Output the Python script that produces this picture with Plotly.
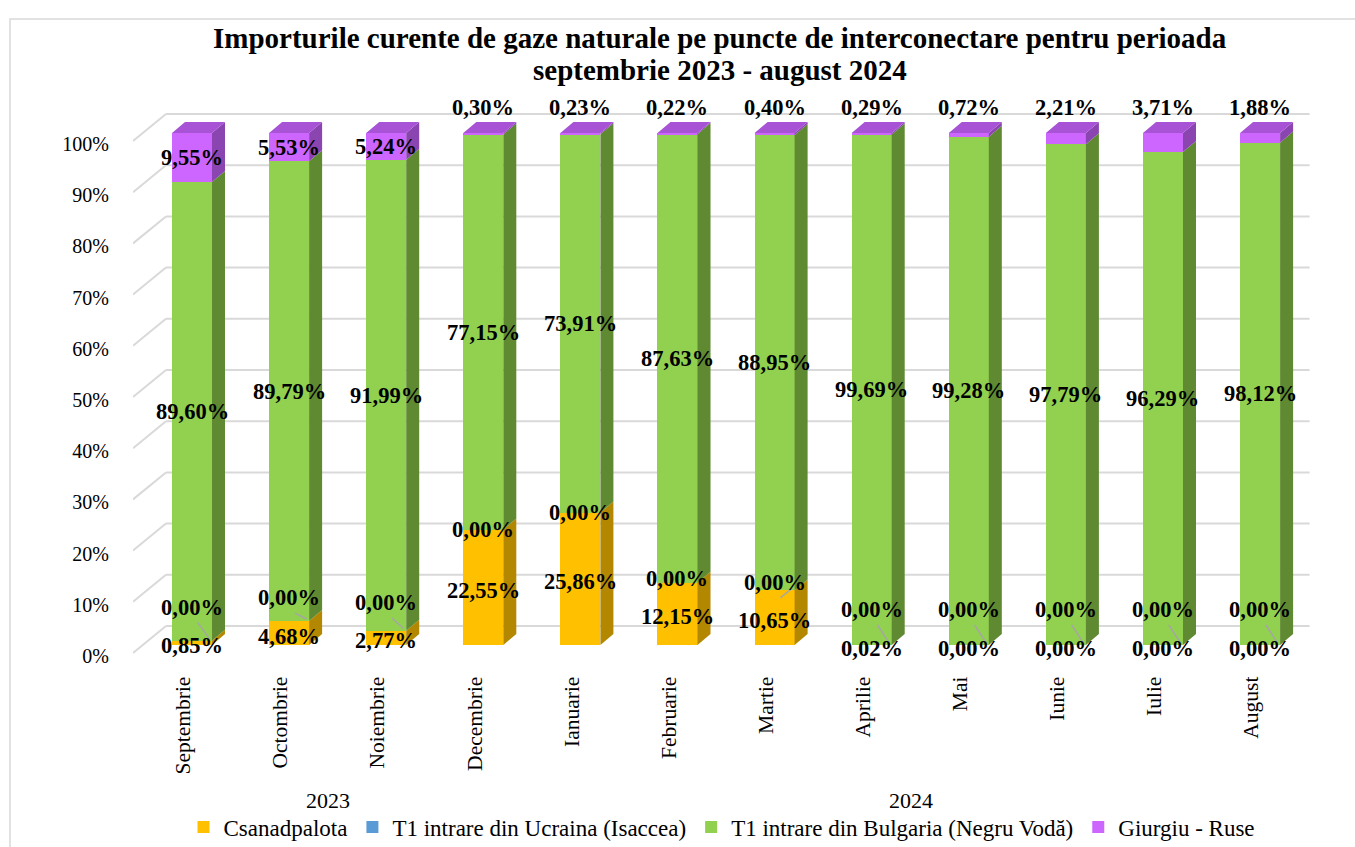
import plotly.graph_objects as go

# ---------------- data ----------------
months = ["Septembrie", "Octombrie", "Noiembrie", "Decembrie", "Ianuarie", "Februarie",
          "Martie", "Aprilie", "Mai", "Iunie", "Iulie", "August"]
year_labels = ["2023", "2024"]
year_month_count = [4, 8]

series_names = ["Csanadpalota", "T1 intrare din Ucraina (Isaccea)",
                "T1 intrare din Bulgaria (Negru Vodă)", "Giurgiu - Ruse"]
csanadpalota = [0.85, 4.68, 2.77, 22.55, 25.86, 12.15, 10.65, 0.02, 0.00, 0.00, 0.00, 0.00]
ucraina = [0.00, 0.00, 0.00, 0.00, 0.00, 0.00, 0.00, 0.00, 0.00, 0.00, 0.00, 0.00]
bulgaria = [89.60, 89.79, 91.99, 77.15, 73.91, 87.63, 88.95, 99.69, 99.28, 97.79, 96.29, 98.12]
giurgiu = [9.55, 5.53, 5.24, 0.30, 0.23, 0.22, 0.40, 0.29, 0.72, 2.21, 3.71, 1.88]
y_ticks = [0, 10, 20, 30, 40, 50, 60, 70, 80, 90, 100]

title_lines = ["Importurile curente de gaze naturale pe puncte de interconectare pentru perioada",
               "septembrie 2023 - august 2024"]

# ---------------- styles ----------------
FONT = "Liberation Serif, Times New Roman, serif"
front_colors = ["#FFC000", "#5B9BD5", "#92D050", "#CC66FF"]
side_colors = ["#B38700", "#41729F", "#5F8A32", "#8A45B0"]
top_colors = ["#D9A400", "#4E86BA", "#79B23F", "#A852D6"]

W, H = 1355, 847
PL, PR, PT, PB = 133, 1320, 80, 664   # plot area in pixels
PX_PER_PCT = 5.12
FRONT_ZERO_PX = 645
Y_MIN = -(PB - FRONT_ZERO_PX) / PX_PER_PCT
Y_MAX = (FRONT_ZERO_PX - PT) / PX_PER_PCT
X_MIN, X_MAX = -0.6076, 11.617

BAR_W = 0.412      # front face width (category units)
DX = 0.134         # depth offset in x (category units)
DY = 2.15          # depth offset in y (percent units)
TICK_OFF = -2.15   # tick label position relative to bar front
WALL_OFF = 3.71    # back wall offset
SLANT_OFF = -1.56
X_WALL = -0.268
X_END = 11.51


def paper_y(py):
    return (PB - py) / (PB - PT)


def paper_x(px):
    return (px - PL) / (PR - PL)


values = [csanadpalota, ucraina, bulgaria, giurgiu]
n = len(months)
xs = list(range(n))

bottoms, tops = [], []
cum = [0.0] * n
for vals in values:
    bottoms.append(cum[:])
    cum = [c + v for c, v in zip(cum, vals)]
    tops.append(cum[:])
totals = cum

fig = go.Figure()

# front faces
for s, name in enumerate(series_names):
    fig.add_trace(go.Bar(
        x=xs, y=values[s], name=name, width=BAR_W,
        marker=dict(color=front_colors[s], line=dict(width=0)),
        hoverinfo="skip",
    ))

# side faces
for s in range(len(series_names)):
    px, py = [], []
    for i in xs:
        if values[s][i] <= 0:
            continue
        xr = i + BAR_W / 2
        y0, y1 = bottoms[s][i], tops[s][i]
        px += [xr, xr + DX, xr + DX, xr, xr, None]
        py += [y0, y0 + DY, y1 + DY, y1, y0, None]
    if px:
        fig.add_trace(go.Scatter(x=px, y=py, mode="lines", fill="toself",
                                 fillcolor=side_colors[s], line=dict(width=0),
                                 hoverinfo="skip", showlegend=False))

# top faces
for s in range(len(series_names)):
    px, py = [], []
    for i in xs:
        top_s = max(k for k in range(len(series_names)) if values[k][i] > 0)
        if top_s != s:
            continue
        xl, xr = i - BAR_W / 2, i + BAR_W / 2
        t = totals[i]
        px += [xl, xl + DX, xr + DX, xr, xl, None]
        py += [t, t + DY, t + DY, t, t, None]
    if px:
        fig.add_trace(go.Scatter(x=px, y=py, mode="lines", fill="toself",
                                 fillcolor=top_colors[s], line=dict(width=0),
                                 hoverinfo="skip", showlegend=False))

# back-wall gridlines
shapes = []
for t in y_ticks:
    shapes.append(dict(type="line", xref="x", yref="y", layer="below",
                       x0=X_MIN, y0=t + SLANT_OFF, x1=X_WALL, y1=t + WALL_OFF,
                       line=dict(color="#D9D9D9", width=2)))
    shapes.append(dict(type="line", xref="x", yref="y", layer="below",
                       x0=X_WALL, y0=t + WALL_OFF, x1=X_END, y1=t + WALL_OFF,
                       line=dict(color="#D9D9D9", width=2)))
# chart frame
shapes.append(dict(type="rect", xref="paper", yref="paper",
                   x0=paper_x(10), y0=paper_y(H + 10), x1=paper_x(W + 10), y1=paper_y(19),
                   line=dict(color="#D9D9D9", width=1.5), fillcolor="rgba(0,0,0,0)",
                   layer="below"))


def fmt(v):
    return f"{v:.2f}".replace(".", ",") + "%"


annotations = []
leader_x, leader_y = [], []
for i in xs:
    c_mid = (bottoms[0][i] + tops[0][i]) / 2 - 0.6
    u_y = max(tops[0][i], c_mid + 7.5)
    label_y = [
        c_mid,
        u_y,
        (bottoms[2][i] + tops[2][i]) / 2,
        (bottoms[3][i] + tops[3][i]) / 2 if values[3][i] >= 5 else totals[i] + 5.0,
    ]
    for s in range(len(series_names)):
        annotations.append(dict(x=i, y=label_y[s], xref="x", yref="y",
                                text="<b>" + fmt(values[s][i]) + "</b>", showarrow=False,
                                yanchor="middle", xanchor="center",
                                font=dict(family=FONT, size=22.5, color="black")))
    # leader line for displaced (zero) labels
    if u_y > tops[0][i] + 1:
        leader_x += [i + 0.06, i + 0.18, None]
        leader_y += [u_y - 3.0, tops[0][i] + 0.4, None]

fig.add_trace(go.Scatter(x=leader_x, y=leader_y, mode="lines",
                         line=dict(color="#A6A6A6", width=1.5),
                         hoverinfo="skip", showlegend=False))

# title lines
for k, (line, py) in enumerate(zip(title_lines, [38, 70])):
    annotations.append(dict(x=paper_x(720), y=paper_y(py), xref="paper", yref="paper",
                            text="<b>" + line + "</b>", showarrow=False,
                            xanchor="center", yanchor="middle",
                            font=dict(family=FONT, size=29, color="black")))

# year labels
start = 0
for lab, cnt in zip(year_labels, year_month_count):
    center = start + (cnt - 1) / 2 - 0.1
    annotations.append(dict(x=center, y=paper_y(800), xref="x", yref="paper",
                            text=lab, showarrow=False, yanchor="middle", xanchor="center",
                            font=dict(family=FONT, size=22, color="black")))
    start += cnt

fig.update_layout(
    width=W, height=H, autosize=False,
    margin=dict(l=PL, r=W - PR, t=PT, b=H - PB, autoexpand=False),
    barmode="stack", bargap=0,
    plot_bgcolor="white", paper_bgcolor="white",
    font=dict(family=FONT, color="black", size=20),
    xaxis=dict(range=[X_MIN, X_MAX], tickmode="array", automargin=False,
               tickvals=[i - 0.09 for i in xs], ticktext=months, tickangle=-90,
               showgrid=False, zeroline=False, showline=False,
               ticks="outside", ticklen=3, tickcolor="rgba(0,0,0,0)",
               tickfont=dict(family=FONT, size=21.5, color="black")),
    yaxis=dict(range=[Y_MIN, Y_MAX], tickmode="array", automargin=False,
               tickvals=[t + TICK_OFF for t in y_ticks],
               ticktext=[f"{t}%" for t in y_ticks],
               showgrid=False, zeroline=False, showline=False,
               ticks="outside", ticklen=19, tickcolor="rgba(0,0,0,0)",
               tickfont=dict(family=FONT, size=20, color="black")),
    legend=dict(orientation="h", x=paper_x(722), xanchor="center",
                yref="container", y=1 - 827 / H, yanchor="middle",
                font=dict(family=FONT, size=23, color="black"),
                traceorder="normal", itemclick=False, itemdoubleclick=False),
    shapes=shapes, annotations=annotations,
    showlegend=True,
)

fig.write_html("out.html", config={"displayModeBar": False},
               post_script="document.body.style.margin='0px';")
